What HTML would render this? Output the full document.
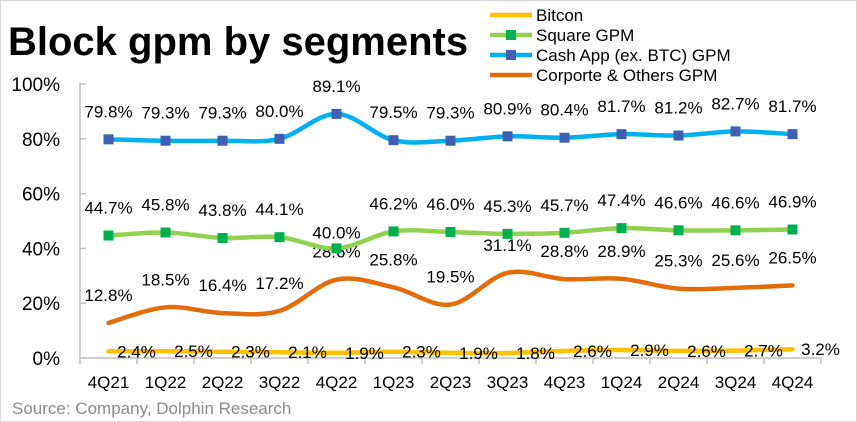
<!DOCTYPE html>
<html><head><meta charset="utf-8"><style>
body{margin:0;background:#fff;}
svg{display:block;font-family:"Liberation Sans","DejaVu Sans",sans-serif;}
</style></head><body>
<svg id="c" width="857" height="422" viewBox="0 0 857 422">
<rect x="0.5" y="0.5" width="856" height="421" fill="#fff" stroke="#d8d8d8"/>
<text x="8" y="55" font-size="40" font-weight="bold" fill="#000">Block gpm by segments</text>
<text x="12" y="414" font-size="17" fill="#8c8c8c">Source: Company, Dolphin Research</text>
<g id="legend"></g>
<g id="axes"></g>
<g id="series"></g>
</svg>
<script>
const categories=["4Q21","1Q22","2Q22","3Q22","4Q22","1Q23","2Q23","3Q23","4Q23","1Q24","2Q24","3Q24","4Q24"];
const bitcoin=[2.4,2.5,2.3,2.1,1.9,2.3,1.9,1.8,2.6,2.9,2.6,2.7,3.2];
const square=[44.7,45.8,43.8,44.1,40.0,46.2,46.0,45.3,45.7,47.4,46.6,46.6,46.9];
const cashApp=[79.8,79.3,79.3,80.0,89.1,79.5,79.3,80.9,80.4,81.7,81.2,82.7,81.7];
const corporate=[12.8,18.5,16.4,17.2,28.6,25.8,19.5,31.1,28.8,28.9,25.3,25.6,26.5];
const yTicks=[0,20,40,60,80,100];
const seriesNames=["Bitcon","Square GPM","Cash App (ex. BTC) GPM","Corporte & Others GPM"];

const NS="http://www.w3.org/2000/svg";
const X0=80,X1=821,Y0=358,Y1=84;
const band=(X1-X0)/categories.length;
const x=i=>X0+band*(i+0.5);
const y=v=>Y0-(v/100)*(Y0-Y1);
function el(t,a,p){const e=document.createElementNS(NS,t);for(const k in a)e.setAttribute(k,a[k]);p.appendChild(e);return e;}
const axes=document.getElementById('axes'),ser=document.getElementById('series'),leg=document.getElementById('legend');

// axes
let ax=el('line',{x1:X0,y1:Y1-2,x2:X0,y2:Y0,stroke:'#bfbfbf','stroke-width':1.5},axes);

let bx=el('line',{x1:X0,y1:Y0,x2:X1,y2:Y0,stroke:'#bfbfbf','stroke-width':1.5},axes);

yTicks.forEach(t=>{
 const tk=el('line',{x1:X0,x2:X0+6,y1:y(t),y2:y(t),stroke:'#bfbfbf','stroke-width':1.5},axes);
 
 const tx=el('text',{x:60,y:y(t)+7,'font-size':19,'text-anchor':'end',fill:'#000'},axes);
 tx.textContent=t+'%';
 
});
for(let i=0;i<=categories.length;i++){
 const tk=el('line',{x1:X0+band*i,x2:X0+band*i,y1:Y0,y2:Y0+6,stroke:'#bfbfbf','stroke-width':1.5},axes);
 
}
categories.forEach((c,i)=>{
 const tx=el('text',{x:x(i),y:388,'font-size':17,'text-anchor':'middle',fill:'#000'},axes);
 tx.textContent=c;
 
});

function smooth(vals){
 const p=vals.map((v,i)=>[x(i),y(v)]);let d='M'+p[0][0]+','+p[0][1];
 for(let i=0;i<p.length-1;i++){
  const a=p[i-1]||p[i],b=p[i],c=p[i+1],e=p[i+2]||c;
  const c1=[b[0]+(c[0]-a[0])/6,b[1]+(c[1]-a[1])/6],c2=[c[0]-(e[0]-b[0])/6,c[1]-(e[1]-b[1])/6];
  d+=' C'+c1+' '+c2+' '+c;
 }return d;
}
function drawSeries(vals,color,marker,name,labelFn){
 const g=el('g',{},ser);
 
 const p=el('path',{d:smooth(vals),fill:'none',stroke:color,'stroke-width':4.5,'stroke-linecap':'round'},g);
 
 vals.forEach((v,i)=>{
  if(marker){
   const m=el('rect',{x:x(i)-5,y:y(v)-5,width:10,height:10,fill:marker},g);
   
  }
  const [lx,ly]=labelFn(i,v);
  const t=el('text',{x:lx,y:ly,'font-size':17,'text-anchor':'middle',fill:'#000'},g);
  t.textContent=v.toFixed(1)+'%';
  
 });
}
drawSeries(bitcoin,'#ffc000',null,'bitcoin-series',(i,v)=>[x(i)+28,y(v)+6]);
drawSeries(corporate,'#e46c0a',null,'corporate-series',(i,v)=>[x(i),y(v)-22]);
drawSeries(square,'#92d050','#00b050','square-series',(i,v)=>[x(i),i===4?y(v)-10:y(v)-22]);
drawSeries(cashApp,'#00b0f0','#3f5fb0','cash-app-series',(i,v)=>[x(i),y(v)-22]);

// legend
const colors=['#ffc000','#92d050','#00b0f0','#e46c0a'],marks=[null,'#00b050','#3f5fb0',null];
seriesNames.forEach((n,i)=>{
 const ly=15+i*20;
 const g=el('g',{},leg);
 
 el('line',{x1:490,x2:532,y1:ly,y2:ly,stroke:colors[i],'stroke-width':4.5},g);
 if(marks[i])el('rect',{x:506,y:ly-5,width:10,height:10,fill:marks[i]},g);
 const t=el('text',{x:536,y:ly+6,'font-size':17,fill:'#000'},g);t.textContent=n;
});
</script>
</body></html>
